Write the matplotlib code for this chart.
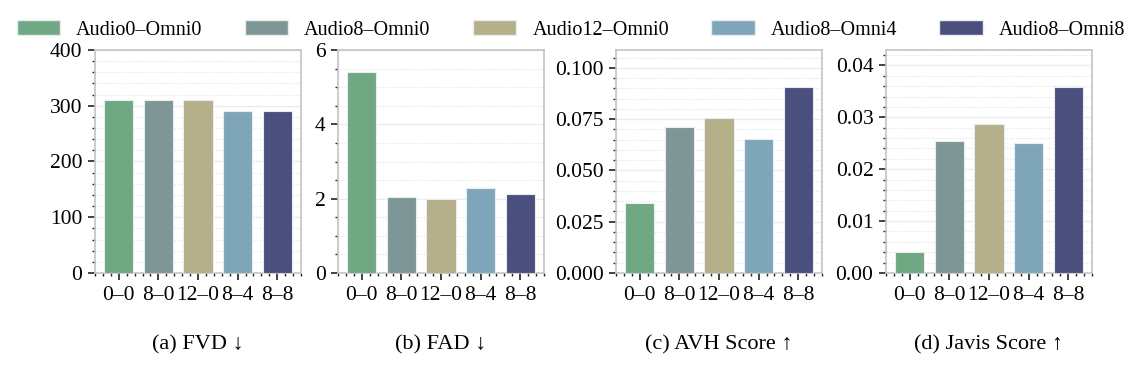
import numpy as np
import matplotlib.pyplot as plt
from matplotlib.ticker import AutoMinorLocator, MultipleLocator
from matplotlib.patches import Patch

plt.rcParams['font.family'] = ['Liberation Serif', 'DejaVu Serif']
plt.rcParams['font.size'] = 14

labels = ["0\u20130", "8\u20130", "12\u20130", "8\u20134", "8\u20138"]
legend_names = ["Audio0\u2013Omni0", "Audio8\u2013Omni0", "Audio12\u2013Omni0",
                "Audio8\u2013Omni4", "Audio8\u2013Omni8"]
colors = ["#6fa882", "#7f9696", "#b5af8a", "#7fa5b8", "#4b4f7e"]

fvd = [310, 310, 310, 290.5, 291]
fad = [5.40, 2.04, 1.99, 2.29, 2.12]
avh = [0.0341, 0.0711, 0.0758, 0.0654, 0.0906]
javis = [0.0041, 0.0254, 0.0288, 0.0250, 0.0358]

titles = ["(a) FVD \u2193", "(b) FAD \u2193", "(c) AVH Score \u2191", "(d) Javis Score \u2191"]
series = [fvd, fad, avh, javis]
ylims = [(0, 400), (0, 6), (0, max(avh) * 1.2), (0, max(javis) * 1.2)]
ysteps = [100, 2, 0.025, 0.01]
yfmt = ["%d", "%d", "%.3f", "%.2f"]

fig = plt.figure(figsize=(11.42, 3.71), dpi=100)
lefts = [95, 338, 616, 886]
W, H = 1142, 371

for i in range(4):
    ax = fig.add_axes([lefts[i] / W, (H - 273) / H, 206 / W, 223 / H])
    x = np.arange(len(labels))
    ax.bar(x, series[i], width=0.74, color=colors, edgecolor="#e8eef0", linewidth=0.8, zorder=3)
    ax.set_xlim(-0.6, 4.6)
    ax.set_ylim(*ylims[i])
    ax.yaxis.set_major_locator(MultipleLocator(ysteps[i]))
    ax.yaxis.set_major_formatter(plt.FormatStrFormatter(yfmt[i]))
    ax.yaxis.set_minor_locator(AutoMinorLocator())
    ax.xaxis.set_minor_locator(AutoMinorLocator())
    ax.set_xticks(x)
    ax.set_xticklabels(labels)
    ax.grid(True, which="major", axis="y", color="#ebebeb", linewidth=1.0, zorder=0)
    ax.grid(True, which="minor", axis="y", color="#e0e0e0", linestyle=":", linewidth=0.8, zorder=0)
    ax.tick_params(which="major", direction="out", length=5, width=1.2, color="#222222",
                   labelsize=15.5, pad=4)
    ax.tick_params(which="minor", direction="out", length=2.5, width=1.0, color="#222222")
    for s in ax.spines.values():
        s.set_color("#c4c4c4")
        s.set_linewidth(1.2)
    ax.text(0.5, -0.323, titles[i], transform=ax.transAxes, ha="center", va="center", fontsize=16)

handles = [Patch(facecolor=c, edgecolor="#e8eef0", label=n) for c, n in zip(colors, legend_names)]
fig.legend(handles=handles, loc="center", bbox_to_anchor=(0.5, 1 - 30 / H), ncol=5,
           frameon=False, fontsize=14.5, handlelength=2.15, handleheight=0.75,
           columnspacing=2.1, handletextpad=0.8, borderaxespad=0)

fig.savefig("out.png", dpi=100)
